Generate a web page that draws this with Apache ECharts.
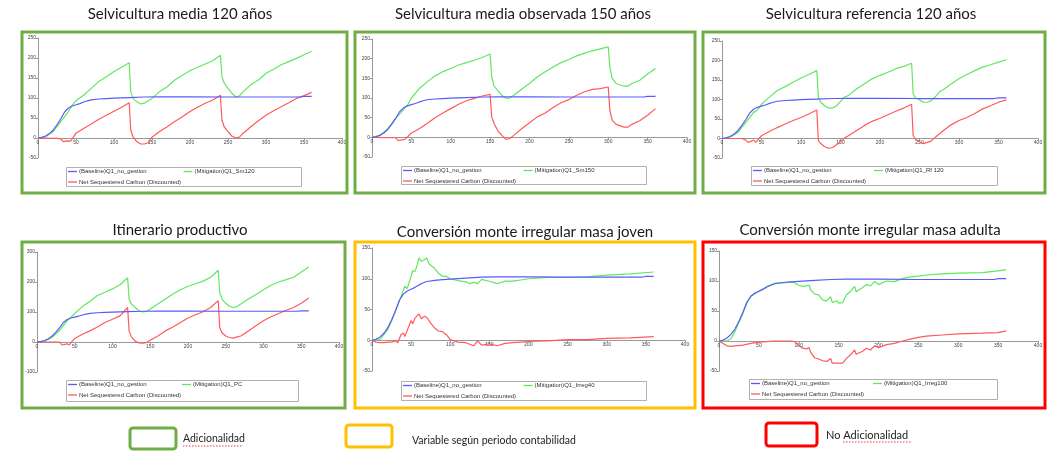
<!DOCTYPE html>
<html><head><meta charset="utf-8">
<script src="https://cdn.jsdelivr.net/npm/echarts@6/dist/echarts.min.js"></script>
<style>html,body{margin:0;padding:0;background:#fff}#c{width:1050px;height:461px}</style>
</head><body><div id="c"></div><script>
// ---------- DATA (year, carbon) ----------
const baseline = [[0,0],[5,1.5],[10,5],[15,11],[20,20],[25,33],[30,48],[35,65],[40,75],[45,80],[50,83],[55,86],[60,90],[65,93],[70,95.5],[80,97.5],[90,98.5],[100,99.5],[120,101],[140,102.5],[160,103],[200,103],[250,102.5],[300,102.5],[345,102.5],[350,104],[360,104]];

const sm120Mit = [[0,0],[10,3],[20,16],[30,41],[40,66],[45,82],[50,93],[60,107],[70,124],[80,141],[90,153],[100,166],[110,177],[120,188],[122,116],[125,99],[130,91],[135,85],[140,87],[150,99],[160,116],[170,128],[180,145],[190,157],[200,168],[210,177],[220,185],[230,193],[240,207],[242,153],[245,137],[250,124],[255,112],[260,103],[265,105],[270,116],[280,133],[290,145],[300,162],[310,172],[320,183],[330,191],[340,199],[350,208],[360,217]];
const sm120Net = [[0,0],[25,-1],[30,-2],[33,-9],[35,-10],[38,-7],[40,-5],[43,-8],[45,-2],[50,12],[60,24],[70,35],[80,47],[90,57],[100,67],[110,77],[120,88],[122,20],[125,3],[130,-9],[135,-15],[140,-15],[145,-12],[150,2],[160,16],[170,28],[180,41],[190,53],[200,66],[210,77],[220,87],[230,95],[240,107],[242,45],[245,28],[250,16],[255,5],[260,0],[265,2],[270,12],[280,28],[290,43],[300,57],[310,68],[320,78],[330,88],[340,99],[350,106],[360,114]];

const sm150Mit = [[0,0],[10,5],[20,22],[30,48],[40,70],[45,82],[50,100],[60,124],[70,141],[80,156],[90,167],[100,175],[110,184],[120,190],[130,196],[140,203],[150,212],[152,154],[155,130],[160,118],[165,107],[170,99],[175,100],[180,107],[190,122],[200,137],[210,154],[220,167],[230,179],[240,190],[250,198],[260,207],[270,214],[280,220],[290,225],[300,230],[302,179],[305,150],[310,137],[320,130],[325,130],[330,137],[340,145],[350,161],[360,175]];
const sm150Net = [[0,0],[30,-1],[33,-8],[35,-9],[40,-6],[43,-3],[45,-1],[50,11],[60,22],[70,35],[80,50],[90,62],[100,73],[110,84],[120,93],[130,99],[140,105],[150,109],[152,52],[155,35],[160,16],[165,5],[170,-5],[175,-3],[180,5],[190,22],[200,37],[210,52],[220,62],[230,76],[240,88],[250,96],[260,107],[270,116],[280,122],[290,124],[300,128],[302,69],[305,43],[310,33],[320,26],[325,26],[330,33],[340,42],[350,56],[360,73]];

const rf120Mit = [[0,0],[10,3],[20,15],[30,41],[40,67],[45,73],[50,88],[60,106],[70,123],[80,133],[90,144],[100,155],[110,164],[120,174],[122,106],[125,93],[130,84],[135,78],[140,78],[145,84],[150,95],[155,106],[160,110],[170,127],[180,140],[190,153],[200,162],[210,170],[220,179],[230,185],[240,193],[242,114],[245,104],[250,99],[255,93],[260,93],[265,97],[270,107],[275,119],[280,125],[290,140],[300,153],[310,164],[320,174],[330,183],[340,189],[350,196],[360,202]];
const rf120Net = [[0,0],[25,0],[30,-4],[33,-10],[36,-8],[40,-4],[43,-10],[45,-4],[50,7],[60,18],[70,28],[80,37],[90,46],[100,54],[110,63],[120,73],[122,-6],[125,-13],[130,-21],[135,-25],[140,-23],[145,-16],[150,-8],[155,1],[160,7],[170,20],[180,33],[190,44],[200,52],[210,61],[220,70],[230,78],[240,88],[242,7],[245,-2],[250,-9],[255,-13],[260,-10],[265,-6],[270,3],[280,20],[290,35],[300,46],[310,54],[320,64],[330,76],[340,84],[350,93],[360,99]];

const pcMit = [[0,0],[10,3],[20,15],[30,39],[40,71],[50,95],[60,118],[70,135],[80,155],[90,166],[100,177],[110,191],[120,214],[122,143],[125,127],[130,115],[135,104],[140,100],[145,102],[150,110],[160,127],[170,143],[180,160],[190,174],[200,186],[210,194],[220,203],[230,216],[240,239],[242,166],[245,143],[250,129],[255,119],[260,115],[265,118],[270,127],[280,143],[290,158],[300,174],[310,189],[320,200],[330,208],[340,216],[350,233],[360,250]];
const pcNet = [[0,0],[30,0],[33,-10],[35,-13],[40,-6],[43,-10],[45,-2],[50,12],[60,26],[70,37],[80,50],[90,65],[100,76],[110,87],[120,115],[122,37],[125,17],[130,3],[135,-3],[140,-4],[145,-2],[150,6],[160,20],[170,37],[180,50],[190,65],[200,80],[210,91],[220,101],[230,115],[240,138],[242,48],[245,31],[250,20],[255,15],[260,13],[265,17],[270,20],[280,37],[290,54],[300,71],[310,84],[320,95],[330,106],[340,115],[350,129],[360,147]];

const irr40Mit = [[0,0],[10,1],[20,17],[25,31],[30,47],[35,64],[40,81],[42,88],[45,84],[50,104],[52,113],[55,112],[58,123],[60,134],[63,128],[67,131],[70,134],[73,124],[80,117],[85,109],[90,104],[95,104],[100,100],[110,97],[120,95],[125,92],[130,94],[135,92],[140,99],[150,96],[160,92],[170,96],[180,96],[190,98],[200,100],[225,102],[250,102],[275,103],[300,106],[330,108],[360,111]];
const irr40Net = [[0,0],[5,-3],[10,-4],[15,-4],[20,-3],[25,-3],[30,-1],[33,-4],[37,9],[40,12],[42,6],[45,16],[50,32],[52,27],[55,36],[60,43],[63,35],[67,39],[70,37],[75,28],[80,20],[85,15],[90,14],[95,9],[100,1],[110,-3],[120,-4],[130,-9],[135,-1],[140,-8],[150,-6],[160,-9],[170,-5],[180,-4],[190,-3],[200,-2],[225,-1],[250,1],[275,1],[300,3],[330,4],[360,6]];

const irr100Mit = [[0,0],[10,0],[15,4],[20,16],[30,46],[35,63],[40,74],[50,83],[60,91],[70,96],[80,97],[90,98],[95,97],[100,93],[105,91],[110,92],[113,93],[115,85],[120,78],[125,77],[130,68],[135,67],[140,74],[142,64],[148,67],[150,63],[155,64],[160,77],[165,83],[170,91],[172,82],[180,89],[185,94],[190,92],[195,99],[200,94],[210,100],[220,99],[230,104],[240,107],[250,108],[260,110],[280,112],[300,113],[330,114],[350,117],[360,119]];
const irr100Net = [[0,0],[5,-4],[10,-8],[15,-9],[20,-8],[30,-7],[40,-4],[50,-2],[60,-1],[70,0],[80,0],[90,0],[95,-1],[100,-7],[105,-12],[110,-13],[113,-11],[115,-19],[120,-28],[125,-30],[130,-33],[135,-34],[140,-29],[142,-37],[148,-37],[150,-39],[155,-37],[160,-29],[165,-23],[170,-15],[172,-22],[180,-17],[185,-12],[190,-15],[195,-8],[200,-11],[210,-6],[220,-4],[230,0],[240,3],[250,6],[260,8],[280,10],[300,12],[330,13],[350,14],[360,17]];

const titles = ['Selvicultura media 120 años','Selvicultura media observada 150 años','Selvicultura referencia 120 años','Itinerario productivo','Conversión monte irregular masa joven','Conversión monte irregular masa adulta'];
const mitNames = ['(Mitigation)Q1_Sm120','(Mitigation)Q1_Sm150','(Mitigation)Q1_Rf 120','(Mitigation)Q1_PC','(Mitigation)Q1_Irreg40','(Mitigation)Q1_Irreg100'];
const mitData = [sm120Mit, sm150Mit, rf120Mit, pcMit, irr40Mit, irr100Mit];
const netData = [sm120Net, sm150Net, rf120Net, pcNet, irr40Net, irr100Net];
const baseName = '(Baseline)Q1_no_gestion';
const netName = 'Net Sequestered Carbon (Discounted)';
const yScales = [[-50,250,50],[-50,250,50],[-50,250,50],[-100,300,100],[-50,150,50],[-50,150,50]];
const xScale = [0,400,50];
const keyLabels = ['Adicionalidad','Variable según periodo contabilidad','No Adicionalidad'];

// ---------- LAYOUT ----------
const GREEN='#70AD47', YELLOW='#FFC000', RED='#FF0000';
const layout = [
  {tx:180,ty:14, box:[22,32,347,193], col:GREEN, grid:[38,38,304,120], leg:[66,167,301,186]},
  {tx:523,ty:14, box:[355,32,695,193], col:GREEN, grid:[372,39,315,118], leg:[401,166,646,184]},
  {tx:871,ty:14, box:[703,32,1045,193], col:GREEN, grid:[722,41,316,117], leg:[751,166,997,185]},
  {tx:180,ty:230, box:[22,242,345,408], col:GREEN, grid:[37,252,302,120], leg:[66,380,298,401]},
  {tx:525,ty:232, box:[355,242,695,408], col:YELLOW, grid:[372,248,313,123], leg:[401,381,646,400]},
  {tx:870,ty:230, box:[703,242,1045,408], col:RED, grid:[719,251,319,120], leg:[749,379,997,399]}
];
const C_BASE='#5a5aff', C_MIT='#5fe85f', C_NET='#ff5a5a';
const tickFont = {fontSize:5, fontFamily:'Liberation Sans', color:'#444'};

const grids=[], xAxes=[], yAxes=[], series=[], legends=[], graphics=[];
layout.forEach((L,i)=>{
  const [gl,gt,gw,gh] = L.grid;
  const [ymin,ymax,yint] = yScales[i];
  const zeroOffset = -gh*(0-ymin)/(ymax-ymin);
  grids.push({left:gl, top:gt, width:gw, height:gh, containLabel:false});
  xAxes.push({type:'value', gridIndex:i, min:xScale[0], max:xScale[1], interval:xScale[2], offset:zeroOffset,
    axisLine:{show:true, onZero:false, lineStyle:{color:'#999', width:1}},
    axisTick:{show:true, length:2, lineStyle:{color:'#999'}},
    axisLabel:Object.assign({margin:2}, tickFont), splitLine:{show:false}});
  yAxes.push({type:'value', gridIndex:i, min:ymin, max:ymax, interval:yint,
    axisLine:{show:true, onZero:false, lineStyle:{color:'#999', width:1}},
    axisTick:{show:true, length:2, lineStyle:{color:'#999'}},
    axisLabel:Object.assign({margin:2}, tickFont), splitLine:{show:false}});
  const common = {type:'line', xAxisIndex:i, yAxisIndex:i, symbol:'none', silent:true, animation:false};
  series.push(Object.assign({name:baseName, data:baseline, lineStyle:{color:C_BASE,width:1.2}, itemStyle:{color:C_BASE}, z:3}, common));
  series.push(Object.assign({name:mitNames[i], data:mitData[i], lineStyle:{color:C_MIT,width:1.2}, itemStyle:{color:C_MIT}, z:2}, common));
  series.push(Object.assign({name:netName, data:netData[i], lineStyle:{color:C_NET,width:1.2}, itemStyle:{color:C_NET}, z:2}, common));
  // legend items
  const [lx1,ly1,lx2,ly2] = L.leg;
  const half = (lx2-lx1)/2;
  const items = [[baseName,lx1+2,ly1+4.5],[mitNames[i],lx1+half,ly1+4.5],[netName,lx1+2,ly1+15]];
  items.forEach(it=>{
    legends.push({data:[it[0]], left:it[1], top:it[2]-4, padding:0, icon:'rect', itemWidth:9, itemHeight:1.3, itemGap:0,
      selectedMode:false, textStyle:{fontSize:6, lineHeight:8, fontFamily:'Liberation Sans', color:'#333', padding:[0,0,0,-3]}});
  });
  graphics.push({type:'rect', shape:{x:lx1+0.5,y:ly1+0.5,width:lx2-lx1,height:ly2-ly1}, style:{fill:'none',stroke:'#b0b0b0',lineWidth:1}, z:1});
  graphics.push({type:'rect', shape:{x:L.box[0],y:L.box[1],width:L.box[2]-L.box[0],height:L.box[3]-L.box[1]}, style:{fill:'none',stroke:L.col,lineWidth:3}, z:5});
  graphics.push({type:'text', x:L.tx, y:L.ty, style:{text:titles[i], fill:'#1a1a1a', font:'15px Lato', align:'center', verticalAlign:'middle'}});
});
// bottom key
const keys = [
  {r:[130,428,46,21], col:GREEN, tx:183, ty:439, fs:10.5, squig:[183,242]},
  {r:[346,425,46,22], col:YELLOW, tx:412, ty:441, fs:10.5},
  {r:[766,423,51,23], col:RED, tx:826, ty:435, fs:11, squig:[843,911]}
];
keys.forEach((k,j)=>{
  graphics.push({type:'rect', shape:{x:k.r[0],y:k.r[1],width:k.r[2],height:k.r[3],r:3}, style:{fill:'#fff',stroke:k.col,lineWidth:3}});
  graphics.push({type:'text', x:k.tx, y:k.ty, style:{text:keyLabels[j], fill:'#222', font:k.fs+'px Lato', verticalAlign:'middle'}});
  if(k.squig){
    graphics.push({type:'line', shape:{x1:k.squig[0],y1:k.ty+7,x2:k.squig[1],y2:k.ty+7}, style:{stroke:'#e04040',lineWidth:1,lineDash:[1.5,1.5]}});
  }
});

const chart = echarts.init(document.getElementById('c'), null, {renderer:'canvas'});
chart.setOption({animation:false, backgroundColor:'#fff', grid:grids, xAxis:xAxes, yAxis:yAxes, series:series, legend:legends, graphic:{elements:graphics}});
</script></body></html>
